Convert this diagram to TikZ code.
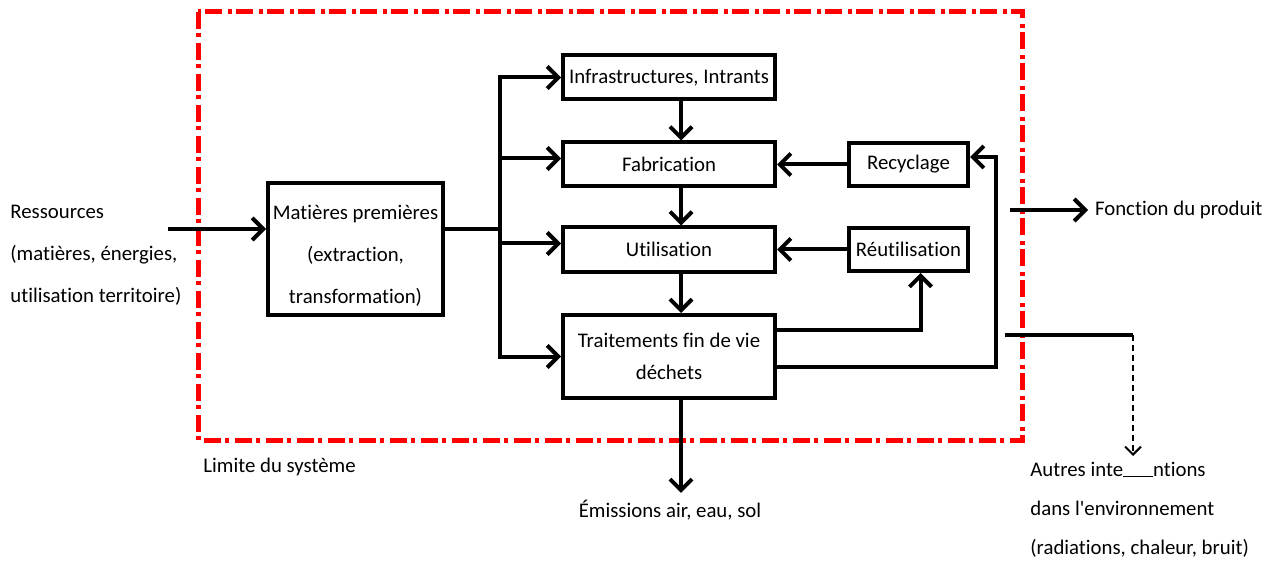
\documentclass[tikz,border=0pt]{standalone}
\usepackage{fontspec}
\setmainfont{Carlito}[Ligatures=NoCommon]
\usetikzlibrary{arrows.meta, positioning}
\tikzset{
  bloc/.style={rectangle, draw, line width=2pt, minimum width=106pt, minimum height=22pt, inner sep=1pt, align=center},
  fleche/.style={line width=2pt, -{Straight Barb[length=5.5pt, width=11pt]}},
  trait/.style={line width=2pt},
  limite/.style={draw=red, line width=2.5pt, dash pattern=on 8.5pt off 2pt on 2pt off 3pt},
}

\begin{document}
\begin{tikzpicture}[x=0.5pt, y=-0.5pt, font=\fontsize{10.4}{12.5}\selectfont]
\useasboundingbox (0,0) rectangle (1268,561);
%limite du systeme
\draw[limite] (198,12) rectangle (1022,440);
\node[anchor=west, inner sep=0] (lim_txt) at (203,467) {Limite du système};
%chaine centrale
\node[bloc] (infra) at (669,77.5) {Infrastructures, Intrants};
\node[bloc] (fab) at (669,164.5) {Fabrication};
\node[bloc] (util) at (669,249.5) {Utilisation};
\node[bloc, minimum height=41.5pt, font=\fontsize{10.4}{16}\selectfont] (trait) at (669,356.5) {Traitements fin de vie\\déchets};
%boucles
\node[bloc, minimum width=59.5pt, minimum height=21.5pt, right=35pt of fab] (recy) {Recyclage};
\node[bloc, minimum width=59.5pt, minimum height=21.5pt, right=35pt of util] (reut) {Réutilisation};
%entree
\node[bloc, minimum width=87.5pt, minimum height=66pt, font=\fontsize{10.4}{21}\selectfont] (mp) at (355.5,249) {\rule{0pt}{14pt}Matières premières\\(extraction,\\transformation)};
\node[anchor=west, align=left, inner sep=0, font=\fontsize{10.4}{21}\selectfont] (res) at (10,255) {Ressources\\(matières, énergies,\\utilisation territoire)};
%sorties
\node (emi) at (670,510) {Émissions air, eau, sol};
\node[anchor=west] (fp) at (1088,210) {Fonction du produit};
\node[anchor=west, align=left, inner sep=0, font=\fontsize{10.4}{19.5}\selectfont] (autres) at (1030,510) {Autres inte\rule{15pt}{0.6pt}ntions\\dans l\textquotesingle environnement\\(radiations, chaleur, bruit)};
%points de passage
\coordinate (entree) at (168,229);
\coordinate (split) at (500,229);
\coordinate (boucle) at (996,157);
\coordinate (fp_dep) at (1010,210);
\coordinate (autres_dep) at (1005,335);
\coordinate (autres_coin) at (1133,335);
% liens
\draw[fleche] (entree) -- ([yshift=10pt]mp.west);
\draw[trait] ([yshift=10pt]mp.east) -- (split);
\draw[fleche] (split) |- (infra.west);
\draw[fleche] (split) |- ([yshift=3pt]fab.west);
\draw[fleche] (split) |- ([yshift=3pt]util.west);
\draw[fleche] (split) |- (trait.west);
\draw[fleche] ([xshift=6pt]infra.south) -- ([xshift=6pt]fab.north);
\draw[fleche] ([xshift=6pt]fab.south) -- ([xshift=6pt]util.north);
\draw[fleche] ([xshift=6pt]util.south) -- ([xshift=6pt]trait.north);
\draw[fleche] ([xshift=6pt]trait.south) -- ([xshift=6pt]trait.south |- emi.north);
\draw[fleche] (recy.west) -- (recy.west -| fab.east);
\draw[fleche] (reut.west) -- (reut.west -| util.east);
\draw[fleche] ([yshift=13.5pt]trait.east) -| ([xshift=6pt]reut.south);
\draw[fleche] ([yshift=-5pt]trait.east) -| (boucle) -- (boucle -| recy.east);
\draw[fleche] (fp_dep) -- (fp.west);
\draw[trait] (autres_dep) -- (autres_coin);
\draw[line width=1pt, densely dashed, -{Straight Barb[length=4pt, width=8pt]}] (autres_coin) -- ([yshift=3pt]autres_coin |- autres.north);
\end{tikzpicture}
\end{document}
